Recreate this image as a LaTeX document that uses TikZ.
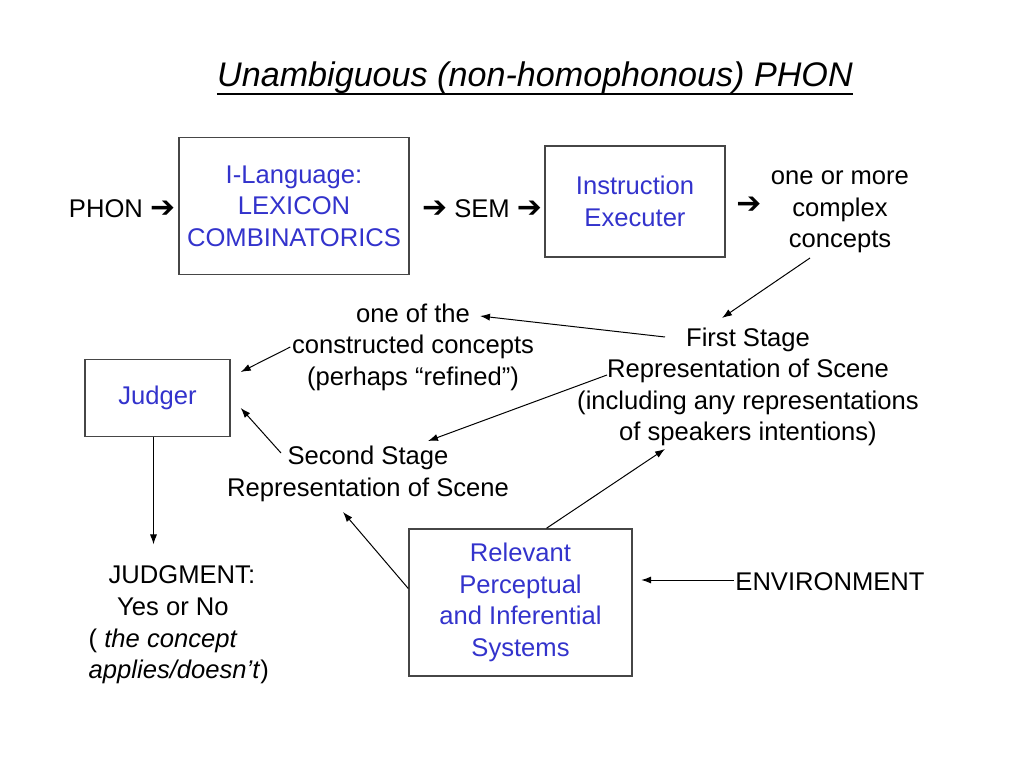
\documentclass[tikz,border=0pt]{standalone}
\usepackage{fontspec}
\setmainfont{Liberation Sans}
\newfontfamily\arrowfont{DejaVu Sans}
\usepackage{tikz}
\usetikzlibrary{arrows.meta, positioning, calc}
\definecolor{boxblue}{RGB}{51,51,204}
\definecolor{boxline}{RGB}{70,70,70}
\newcommand{\harr}{{\arrowfont\bfseries\fontsize{21}{22}\selectfont ➔}}

\begin{document}
\begin{tikzpicture}[
    x=0.703125pt, y=-0.703125pt,
    every node/.style={font=\fontsize{18}{22.2}\selectfont, align=center, inner sep=1pt},
    box/.style={draw=boxline, line width=1pt, text=boxblue, inner sep=0pt},
    link/.style={-{Latex[length=7pt,width=5pt]}, line width=0.7pt}
  ]
  \useasboundingbox (0,0) rectangle (1024,768);

  \node[font=\fontsize{24}{28.8}\selectfont\itshape, inner sep=0pt, anchor=base] (title)
    at (535,87) {Unambiguous (non-homophonous) PHON};
  \draw[line width=1.3pt] ([yshift=-4.9pt]title.base west) -- ([yshift=-4.9pt]title.base east);

  \node[box, minimum width=161.7pt, minimum height=96.3pt] (lexicon) at (294,206)
    {I-Language:\\LEXICON\\COMBINATORICS};
  \node (phon) at (122,209) {PHON \harr};
  \node (sem) at (482,209) {\harr{} SEM \harr};
  \node[box, minimum width=126.6pt, minimum height=78pt] (executer) at (635,201.5)
    {Instruction\\Executer};
  \node (toconcepts) at (749,205) {\harr};
  \node (concepts) at (840,212) {one or more\\complex\\concepts};

  \node (chosen) at (413,347) {one of the\\constructed concepts\\(perhaps “refined”)};
  \node[box, minimum width=102pt, minimum height=54.1pt] (judger) at (157.5,398) {Judger};
  \node (first) at (748,387)
    {First Stage\\Representation of Scene\\(including any representations\\of speakers intentions)};
  \node (second) at (368,474) {Second Stage\\Representation of Scene};

  \node[align=left, anchor=west] (judgment) at (87,625)
    {\hspace*{14pt}JUDGMENT:\\\hspace*{20pt}Yes or No\\( \textit{the concept}\\\textit{applies/doesn’t})};
  \node[box, minimum width=156.8pt, minimum height=103.4pt] (relevant) at (520.5,602.5)
    {Relevant\\Perceptual\\and Inferential\\Systems};
  \node (environment) at (830,582) {ENVIRONMENT};

  \draw[link] ($(concepts.center)+(-30,46)$) -- ($(first.center)+(-26,-69)$);
  \draw[link] ($(first.center)+(-83,-50)$) -- ($(chosen.center)+(67,-31)$);
  \draw[link] ($(first.center)+(-141,-12)$) -- ($(second.center)+(60,-33)$);
  \draw[link] (chosen.west) -- ($(judger.east)+(10,-26)$);
  \draw[link] ($(second.center)+(-87,-21)$) -- ($(judger.east)+(10,10)$);
  \draw[link, shorten >=14pt] ($(judger.south)+(-4,0)$) -- ($(judger.south |- judgment.north)+(-4,0)$);
  \draw[link] ($(relevant.north)+(26,0)$) -- ($(first.center)+(-83,62)$);
  \draw[link] ($(relevant.west)+(0,-14)$) -- ($(second.center)+(-25,38)$);
  \draw[link, shorten >=6pt] ($(environment.west)+(0,-2)$) -- ($(environment.west -| relevant.east)+(0,-2)$);
\end{tikzpicture}
\end{document}
